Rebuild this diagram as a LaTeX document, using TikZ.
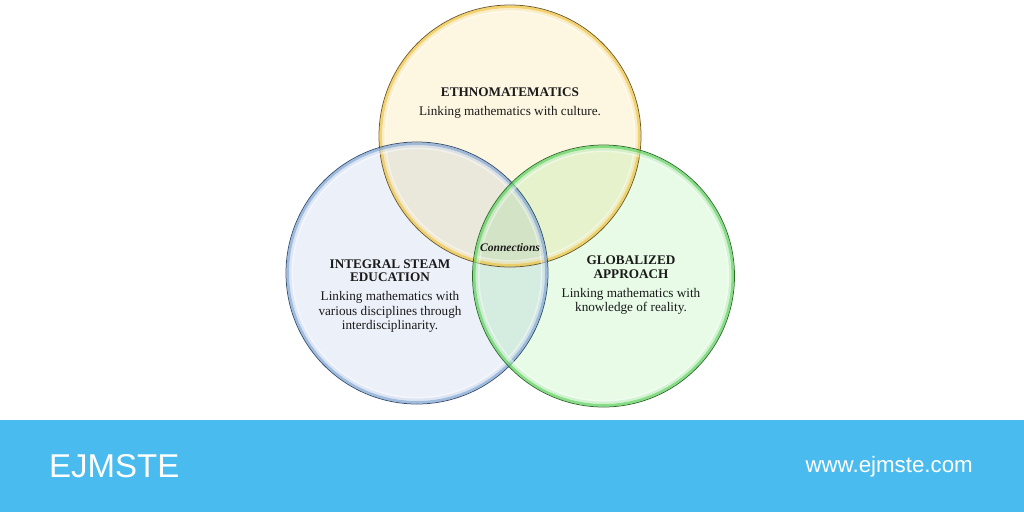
\documentclass[tikz,border=0pt]{standalone}
\usepackage{fontspec}
\setmainfont{Liberation Serif}
\newfontfamily\bannerfont{Liberation Sans}
\definecolor{Yfill}{HTML}{FDF6E1}
\definecolor{Yedge}{HTML}{F0C64A}
\definecolor{Ydark}{HTML}{6E5A22}
\definecolor{Bfill}{HTML}{ECF0F9}
\definecolor{Bedge}{HTML}{86AAD6}
\definecolor{Bdark}{HTML}{344F72}
\definecolor{Gfill}{HTML}{E7FBE7}
\definecolor{Gedge}{HTML}{66D466}
\definecolor{Gdark}{HTML}{2A6E2A}
\definecolor{banner}{HTML}{4ABBEE}
\definecolor{txt}{HTML}{1A1A1A}
\tikzset{
  heading/.style={font=\fontsize{13.2}{13.6}\selectfont\bfseries, text=txt, align=center, inner sep=0pt},
  body/.style={font=\fontsize{13.2}{14.6}\selectfont, text=txt, align=center, inner sep=0pt},
  conn/.style={font=\fontsize{11.6}{12}\selectfont\bfseries\itshape, text=txt, inner sep=0pt},
  bannertext/.style={text=white, inner sep=0pt}
}
\newcommand{\vennring}[4]{%
  % #1 center, #2 edge colour, #3 dark colour, #4 radius
  \draw[#2, line width=2.6pt, opacity=0.75] #1 circle[radius=#4pt-1.8pt];
  \draw[#2!40, line width=2.5pt, opacity=0.55] #1 circle[radius=#4pt-4.3pt];
  \draw[white, line width=1.5pt, opacity=0.45] #1 circle[radius=#4pt-6.3pt];
  \draw[#3, line width=0.75pt] #1 circle[radius=#4pt];
}
\begin{document}
\begin{tikzpicture}[x=1pt,y=-1pt]
\useasboundingbox (0,0) rectangle (1024,512);
\fill[white] (0,0) rectangle (1024,512);
\coordinate (ct) at (510,136);
\coordinate (cl) at (417,273);
\coordinate (cr) at (603.5,276);
\begin{scope}[blend mode=multiply]
  \fill[Yfill] (ct) circle[radius=131pt];
  \fill[Bfill] (cl) circle[radius=131pt];
  \fill[Gfill] (cr) circle[radius=131pt];
\end{scope}
\vennring{(ct)}{Yedge}{Ydark}{131}
\vennring{(cl)}{Bedge}{Bdark}{131}
\vennring{(cr)}{Gedge}{Gdark}{131}
\node[heading] (eh) at (510,92) {ETHNOMATEMATICS};
\node[body] (eb) at (510,112) {Linking mathematics with culture.};
\node[conn] (cn) at (510,248) {Connections};
\node[heading] (lh) at (390,270.5) {INTEGRAL STEAM\\EDUCATION};
\node[body] (lb) at (390,312) {Linking mathematics with\\various disciplines through\\interdisciplinarity.};
\node[heading] (rh) at (631,267) {GLOBALIZED\\APPROACH};
\node[body] (rb) at (631,301.5) {Linking mathematics with\\knowledge of reality.};
\fill[banner] (0,420) rectangle (1024,512);
\node[bannertext, font=\bannerfont\fontsize{33}{33}\selectfont, anchor=west] (ej) at (49,466) {EJMSTE};
\node[bannertext, font=\bannerfont\fontsize{22.3}{22.3}\selectfont, anchor=east] (url) at (973,467) {www.ejmste.com};
\end{tikzpicture}
\end{document}
